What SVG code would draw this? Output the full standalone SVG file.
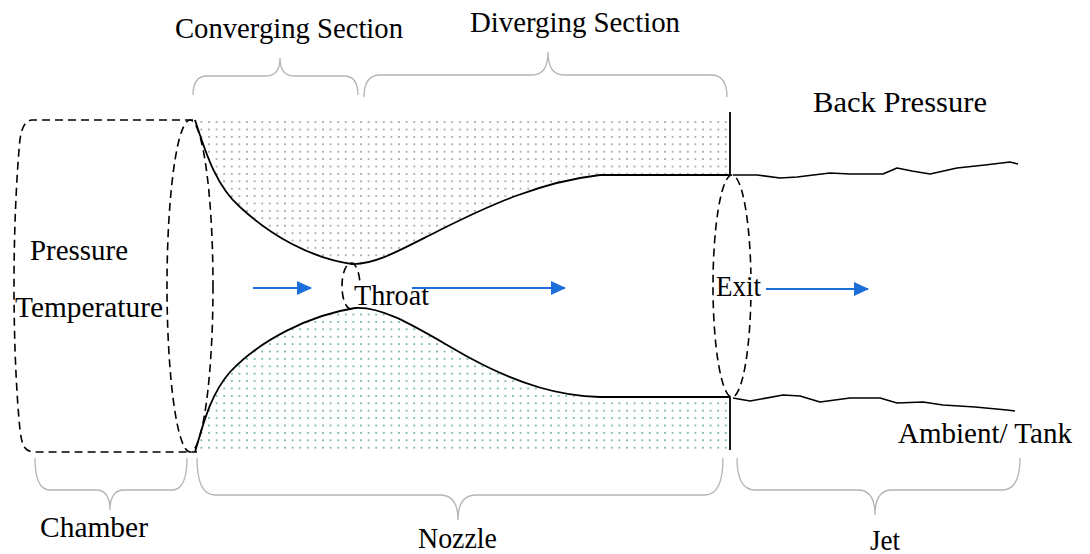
<svg xmlns="http://www.w3.org/2000/svg" width="1090" height="554" viewBox="0 0 1090 554">
  <defs>
    <pattern id="dotsGray" width="7.6" height="7.4" patternUnits="userSpaceOnUse">
      <circle cx="3.8" cy="3.7" r="1" fill="#999"/>
    </pattern>
    <pattern id="dotsTeal" width="7.6" height="7.4" patternUnits="userSpaceOnUse">
      <circle cx="3.8" cy="3.7" r="1" fill="#6aa6a6"/>
    </pattern>
    <marker id="arrowHead" viewBox="0 0 15 14" refX="14" refY="7" markerWidth="15" markerHeight="14" markerUnits="userSpaceOnUse" orient="auto">
      <path d="M0,0 L15,7 L0,14 Z" fill="#1c6fd9"/>
    </marker>
  </defs>
  <style>
    .lbl { font-family: "Liberation Serif", "DejaVu Serif", serif; font-size: 29px; fill: #000; }
    .wall { fill: none; stroke: #000; stroke-width: 1.8; stroke-linejoin: round; }
    .dash { fill: none; stroke: #000; stroke-width: 1.6; stroke-dasharray: 8 5; }
    .brace { fill: none; stroke: #b4b4b4; stroke-width: 1.3; }
    .flow { stroke: #1c6fd9; stroke-width: 1.8; marker-end: url(#arrowHead); }
    .jet { fill: none; stroke: #000; stroke-width: 1.6; stroke-linejoin: round; }
    .bg { fill: #fff; }
  </style>

  <rect width="1090" height="554" fill="#fff"/>

  <!-- nozzle body: dotted walls -->
  <g id="nozzle">
    <path d="M195,118 H730 V175 H600 C540,182 490,205 440,230 C400,250 375,265 352,264 C310,258 270,235 240,207 C215,185 205,150 195,120 Z" fill="url(#dotsGray)"/>
    <path d="M195,452 H730 V397 H600 C560,396 520,385 470,358 C420,330 385,306 355,308 C310,315 260,340 230,372 C210,395 203,425 195,452 Z" fill="url(#dotsTeal)"/>
    <path class="wall" d="M195,120 C205,150 215,185 240,207 C270,235 310,258 352,264 C375,265 400,250 440,230 C490,205 540,182 600,175 H730 V112"/>
    <path class="wall" d="M195,452 C203,425 210,395 230,372 C260,340 310,315 355,308 C385,306 420,330 470,358 C520,385 560,396 600,397 H730 V450"/>
  </g>

  <!-- chamber -->
  <g id="chamber">
    <path class="dash" d="M193,120 H32 C22,121 20,135 19,150 C15,200 14,250 14,286 C14,350 17,400 20,430 C22,445 24,452 35,452 H197"/>
    <ellipse class="dash" cx="190" cy="286" rx="23" ry="166"/>
    <text class="lbl" x="30" y="260" textLength="98" lengthAdjust="spacingAndGlyphs">Pressure</text>
    <text class="lbl" x="15" y="317" textLength="148" lengthAdjust="spacingAndGlyphs">Temperature</text>
  </g>

  <!-- throat -->
  <g id="throat">
    <ellipse class="dash" cx="351" cy="286" rx="9" ry="23"/>
    <rect class="bg" x="354" y="281" width="50" height="26"/>
    <text class="lbl" x="354" y="305" textLength="75" lengthAdjust="spacingAndGlyphs">Throat</text>
  </g>

  <!-- exit plane -->
  <g id="exit">
    <ellipse class="dash" cx="732" cy="286" rx="19" ry="111"/>
    <rect class="bg" x="717" y="274" width="44" height="26"/>
    <text class="lbl" x="716" y="296" textLength="45" lengthAdjust="spacingAndGlyphs">Exit</text>
  </g>

  <!-- jet boundaries -->
  <g id="jet">
    <polyline class="jet" points="733,175 757,175 780,178 797,177 830,173 850,174 883,174 897,168 912,171 930,174 957,168 985,165 1010,162 1018,164"/>
    <polyline class="jet" points="733,398 750,401 783,395 800,396 820,402 850,398 880,398 897,403 923,402 943,405 975,407 1007,410 1015,411"/>
  </g>

  <!-- flow arrows -->
  <g id="connectors">
    <line class="flow" x1="253" y1="288" x2="311" y2="288"/>
    <line class="flow" x1="412" y1="288" x2="565" y2="288"/>
    <line class="flow" x1="766" y1="289" x2="868" y2="289"/>
  </g>

  <!-- section braces -->
  <g id="braces">
    <path class="brace" d="M193,95 Q193,76 207,76 H266 Q280,76 280,58 Q280,76 294,76 H344 Q358,76 358,95"/>
    <path class="brace" d="M364,97 Q364,75 380,75 H532 Q548,75 548,52 Q548,75 564,75 H711 Q727,75 727,97"/>
    <path class="brace" d="M35,458 Q35,490 50,490 H96 Q110,490 110,510 Q110,490 124,490 H172 Q187,490 187,458"/>
    <path class="brace" d="M197,458 Q197,495 215,495 H440 Q458,495 458,520 Q458,495 476,495 H705 Q723,495 723,458"/>
    <path class="brace" d="M737,458 Q737,490 755,490 H858 Q875,490 875,515 Q875,490 892,490 H1002 Q1020,490 1020,458"/>
  </g>

  <!-- labels -->
  <g id="labels">
    <text class="lbl" x="175" y="38" textLength="228" lengthAdjust="spacingAndGlyphs">Converging Section</text>
    <text class="lbl" x="470" y="32" textLength="210" lengthAdjust="spacingAndGlyphs">Diverging Section</text>
    <text class="lbl" x="813" y="112" textLength="174" lengthAdjust="spacingAndGlyphs">Back Pressure</text>
    <text class="lbl" x="898" y="443" textLength="174" lengthAdjust="spacingAndGlyphs">Ambient/ Tank</text>
    <text class="lbl" x="40" y="537" textLength="108" lengthAdjust="spacingAndGlyphs">Chamber</text>
    <text class="lbl" x="418" y="548" textLength="79" lengthAdjust="spacingAndGlyphs">Nozzle</text>
    <text class="lbl" x="870" y="550" textLength="30" lengthAdjust="spacingAndGlyphs">Jet</text>
  </g>
</svg>
